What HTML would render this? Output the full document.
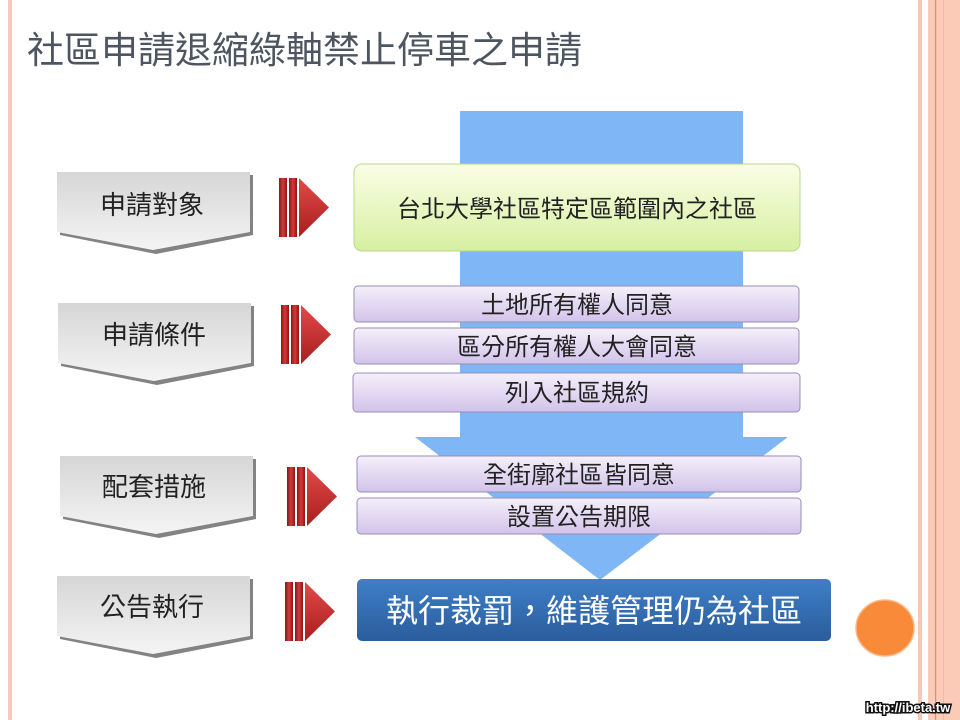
<!DOCTYPE html>
<html><head><meta charset="utf-8"><style>
html,body{margin:0;padding:0;background:#fff;width:960px;height:720px;overflow:hidden}
svg{display:block}
text{font-family:"Liberation Sans","Noto Sans CJK TC",sans-serif}
</style></head><body>
<svg width="960" height="720" viewBox="0 0 960 720" xmlns="http://www.w3.org/2000/svg">
<defs>
<linearGradient id="gray" x1="0" y1="0" x2="0" y2="1"><stop offset="0" stop-color="#d6d6d6"/><stop offset="1" stop-color="#f4f4f4"/></linearGradient>
<linearGradient id="green" x1="0" y1="0" x2="0" y2="1"><stop offset="0" stop-color="#fbfde6"/><stop offset="1" stop-color="#d6f0a0"/></linearGradient>
<linearGradient id="purp" x1="0" y1="0" x2="0" y2="1"><stop offset="0" stop-color="#f4f0fa"/><stop offset="1" stop-color="#d2c3ea"/></linearGradient>
<linearGradient id="blue" x1="0" y1="0" x2="0" y2="1"><stop offset="0" stop-color="#3f7fc8"/><stop offset="1" stop-color="#2a5d9c"/></linearGradient>
<linearGradient id="red" x1="0" y1="0" x2="1" y2="0"><stop offset="0" stop-color="#8e1616"/><stop offset="0.5" stop-color="#d23a3a"/><stop offset="1" stop-color="#8e1616"/></linearGradient>
<linearGradient id="redt" x1="0" y1="0" x2="0" y2="1"><stop offset="0" stop-color="#e24a4a"/><stop offset="1" stop-color="#a81e1e"/></linearGradient>
<g id="chev">
<path d="M3 3 H196 V63 L99 82 L3 63 Z" fill="#6d6d6d" opacity="0.85"/>
<path d="M0 0 H193 V60 L96 78 L0 60 Z" fill="url(#gray)"/>
</g>
<g id="redarr">
<rect x="0" y="0" width="8" height="59" fill="url(#red)"/>
<rect x="10" y="0" width="8" height="59" fill="url(#red)"/>
<path d="M20 0 L50 29.5 L20 59 Z" fill="url(#redt)"/>
</g>
</defs>
<rect x="8" y="0" width="4" height="720" fill="#f6c9bc"/>
<rect x="918" y="0" width="4" height="720" fill="#f8c6b5"/>
<rect x="928" y="0" width="32" height="720" fill="#fbcbb8"/>
<rect x="935" y="0" width="1.2" height="720" fill="#d8906f"/>
<rect x="943" y="0" width="1" height="720" fill="#f5b9a3"/>
<text x="27" y="63" font-size="37" fill="#4d5560">社區申請退縮綠軸禁止停車之申請</text>
<path d="M460 111 H743 V437 H788 L600 580 L415 437 H460 Z" fill="#7fb6f6"/>
<use href="#chev" x="57" y="172"/>
<text x="100" y="214" font-size="26" fill="#222">申請對象</text>
<use href="#chev" x="58" y="303"/>
<text x="102" y="344" font-size="26" fill="#222">申請條件</text>
<use href="#chev" x="60" y="456"/>
<text x="102" y="496" font-size="26" fill="#222">配套措施</text>
<use href="#chev" x="57" y="576"/>
<text x="100" y="616" font-size="26" fill="#222">公告執行</text>
<use href="#redarr" x="279" y="178"/>
<use href="#redarr" x="281" y="305"/>
<use href="#redarr" x="287" y="467"/>
<use href="#redarr" x="285" y="582"/>
<rect x="354" y="164" width="446" height="87" rx="8" fill="url(#green)" stroke="#b8d88a"/>
<text x="397" y="217" font-size="24" fill="#222">台北大學社區特定區範圍內之社區</text>
<g stroke="#9a8db8" stroke-width="1">
<rect x="354" y="286" width="445" height="36" rx="4" fill="url(#purp)"/>
<rect x="354" y="328" width="445" height="36" rx="4" fill="url(#purp)"/>
<rect x="353" y="373" width="447" height="39" rx="4" fill="url(#purp)"/>
<rect x="357" y="456" width="444" height="36" rx="4" fill="url(#purp)"/>
<rect x="357" y="498" width="444" height="36" rx="4" fill="url(#purp)"/>
</g>
<g font-size="24" fill="#222">
<text x="481" y="313">土地所有權人同意</text>
<text x="457" y="355">區分所有權人大會同意</text>
<text x="505" y="401">列入社區規約</text>
<text x="483" y="483">全街廓社區皆同意</text>
<text x="507" y="525">設置公告期限</text>
</g>
<rect x="357" y="579" width="474" height="62" rx="5" fill="url(#blue)"/>
<text x="386" y="622" font-size="32" fill="#fff">執行裁罰，維護管理仍為社區</text>
<ellipse cx="885" cy="628" rx="29" ry="28" fill="#f98a3a" stroke="#fbb787" stroke-width="1.5"/>
<text x="908" y="712" font-size="13" font-weight="bold" text-anchor="middle" fill="#fff" stroke="#111" stroke-width="3" paint-order="stroke">http://ibeta.tw</text>
</svg>
</body></html>
